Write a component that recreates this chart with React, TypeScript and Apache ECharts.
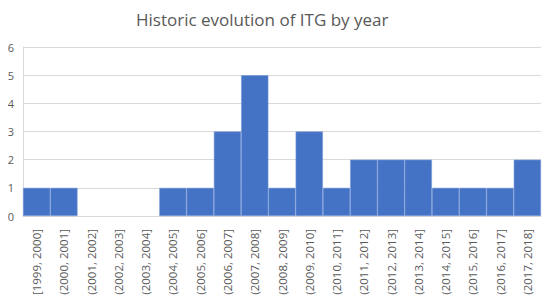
import React, { useEffect, useRef } from "react";
import * as echarts from "echarts";

const categories = [
  "[1999, 2000]", "(2000, 2001]", "(2001, 2002]", "(2002, 2003]", "(2003, 2004]",
  "(2004, 2005]", "(2005, 2006]", "(2006, 2007]", "(2007, 2008]", "(2008, 2009]",
  "(2009, 2010]", "(2010, 2011]", "(2011, 2012]", "(2012, 2013]", "(2013, 2014]",
  "(2014, 2015]", "(2015, 2016]", "(2016, 2017]", "(2017, 2018]",
];
const counts = [1, 1, 0, 0, 0, 1, 1, 3, 5, 1, 3, 1, 2, 2, 2, 1, 1, 1, 2];
const titleText = "Historic evolution of ITG by year";

export default function App() {
  const ref = useRef<HTMLDivElement>(null);
  useEffect(() => {
    const chart = echarts.init(ref.current!, undefined, { renderer: "svg" });
    chart.setOption({
      animation: false,
      backgroundColor: "#ffffff",
      textStyle: { fontFamily: "Open Sans" },
      title: {
        text: titleText,
        left: 131,
        top: 6,
        textStyle: { fontSize: 17, fontWeight: "normal", color: "#595959", fontFamily: "Open Sans" },
      },
      grid: { left: 23, right: 11, top: 47, bottom: 87, containLabel: false },
      xAxis: {
        type: "category",
        data: categories,
        axisLine: { show: true, lineStyle: { color: "#d9d9d9" } },
        axisTick: { show: false },
        axisLabel: { rotate: 90, interval: 0, fontSize: 11.5, color: "#595959", margin: 13 },
      },
      yAxis: {
        type: "value",
        min: 0,
        max: 6,
        interval: 1,
        axisLine: { show: true, lineStyle: { color: "#d9d9d9" } },
        axisTick: { show: false },
        axisLabel: { fontSize: 11, color: "#595959", margin: 9 },
        splitLine: { show: true, lineStyle: { color: "#d9d9d9" } },
      },
      series: [
        {
          type: "bar",
          data: counts.map((v) => (v === 0 ? { value: v, itemStyle: { borderWidth: 0 } } : v)),
          barCategoryGap: "0%",
          itemStyle: { color: "#4472C4", borderColor: "#7b9bd9", borderWidth: 0.6 },
        },
      ],
    });
    return () => chart.dispose();
  }, []);
  return <div ref={ref} style={{ width: 552, height: 303, margin: -8 }} />;
}
